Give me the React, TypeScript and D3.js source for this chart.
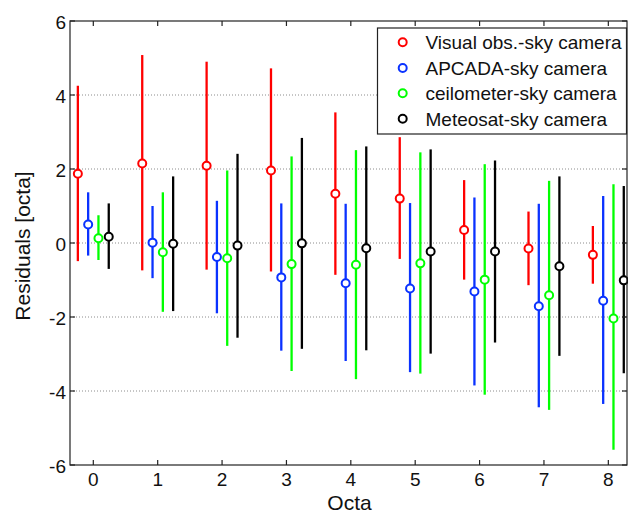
import React from "react";
import * as d3 from "d3";

const octas = [0, 1, 2, 3, 4, 5, 6, 7, 8];
const yTicks = [-6, -4, -2, 0, 2, 4, 6];
const gridTicks = [-4, -2, 0, 2, 4];

const seriesNames = [
  "Visual obs.-sky camera",
  "APCADA-sky camera",
  "ceilometer-sky camera",
  "Meteosat-sky camera",
];
const seriesColors = ["#ff0000", "#0a32ff", "#00ff00", "#000000"];
const seriesOffsets = [-0.24, -0.08, 0.08, 0.24];

const visualMean = [1.87, 2.15, 2.09, 1.96, 1.33, 1.2, 0.35, -0.15, -0.32];
const visualLow = [-0.49, -0.74, -0.72, -0.77, -0.86, -0.43, -0.99, -1.14, -1.1];
const visualHigh = [4.25, 5.08, 4.9, 4.72, 3.53, 2.86, 1.7, 0.85, 0.46];

const apcadaMean = [0.5, 0.01, -0.38, -0.93, -1.09, -1.23, -1.31, -1.71, -1.56];
const apcadaLow = [-0.34, -0.95, -1.9, -2.91, -3.19, -3.49, -3.85, -4.44, -4.35];
const apcadaHigh = [1.37, 1.0, 1.14, 1.07, 1.06, 1.08, 1.23, 1.06, 1.27];

const ceilMean = [0.13, -0.25, -0.41, -0.57, -0.59, -0.55, -0.99, -1.41, -2.04];
const ceilLow = [-0.46, -1.86, -2.78, -3.46, -3.68, -3.53, -4.1, -4.51, -5.59];
const ceilHigh = [0.75, 1.37, 1.96, 2.34, 2.51, 2.45, 2.13, 1.68, 1.59];

const meteoMean = [0.17, -0.02, -0.07, -0.01, -0.14, -0.23, -0.23, -0.63, -1.01];
const meteoLow = [-0.7, -1.84, -2.56, -2.86, -2.9, -2.99, -2.69, -3.05, -3.52];
const meteoHigh = [1.07, 1.8, 2.41, 2.84, 2.61, 2.53, 2.23, 1.8, 1.54];

const means = [visualMean, apcadaMean, ceilMean, meteoMean];
const lows = [visualLow, apcadaLow, ceilLow, meteoLow];
const highs = [visualHigh, apcadaHigh, ceilHigh, meteoHigh];

const W = 628;
const H = 513;
const left = 70;
const right = 627;
const top = 21;
const bottom = 465;
const FONT = "'Liberation Sans', Arial, Helvetica, sans-serif";

export default function App() {
  const x = d3.scaleLinear().domain([-0.362, 8.29]).range([left, right]);
  const y = d3.scaleLinear().domain([-6, 6]).range([bottom, top]);
  const tickLen = 5;
  const frame = "#222";

  const legendX = 377.5;
  const legendY = 28;
  const legendW = 249;
  const legendH = 106;
  const rowY = [42.3, 68, 93.3, 118.7];

  return (
    <svg
      width={W}
      height={H}
      style={{ position: "absolute", left: 0, top: 0, background: "#fff" }}
      fontFamily={FONT}
    >
      <rect x={0} y={0} width={W} height={H} fill="#fff" />
      {gridTicks.map((t) => (
        <line
          key={"g" + t}
          x1={left}
          x2={right}
          y1={y(t)}
          y2={y(t)}
          stroke="#8c8c8c"
          strokeWidth={1}
          strokeDasharray="1,2"
        />
      ))}
      {means.map((m, si) =>
        octas.map((o, i) => {
          const cx = x(o + seriesOffsets[si]);
          return (
            <g key={`s${si}-${i}`}>
              <line
                x1={cx}
                x2={cx}
                y1={y(lows[si][i])}
                y2={y(highs[si][i])}
                stroke={seriesColors[si]}
                strokeWidth={2.3}
              />
              <circle
                cx={cx}
                cy={y(m[i])}
                r={4}
                fill="#fff"
                stroke={seriesColors[si]}
                strokeWidth={2}
              />
            </g>
          );
        })
      )}
      <rect
        x={left}
        y={top}
        width={right - left}
        height={bottom - top}
        fill="none"
        stroke={frame}
        strokeWidth={1.2}
      />
      {octas.map((o) => (
        <g key={"xt" + o}>
          <line x1={x(o)} x2={x(o)} y1={bottom} y2={bottom - tickLen} stroke={frame} strokeWidth={1.2} />
          <line x1={x(o)} x2={x(o)} y1={top} y2={top + tickLen} stroke={frame} strokeWidth={1.2} />
          <text x={x(o)} y={486} textAnchor="middle" fontSize={19} fill="#111">
            {o}
          </text>
        </g>
      ))}
      {yTicks.map((t) => (
        <g key={"yt" + t}>
          <line x1={left} x2={left + tickLen} y1={y(t)} y2={y(t)} stroke={frame} strokeWidth={1.2} />
          <line x1={right} x2={right - tickLen} y1={y(t)} y2={y(t)} stroke={frame} strokeWidth={1.2} />
          <text x={66} y={y(t) + 7.8} textAnchor="end" fontSize={19} fill="#111">
            {t}
          </text>
        </g>
      ))}
      <text x={349.5} y={510} textAnchor="middle" fontSize={21} fill="#111">
        Octa
      </text>
      <text
        transform={`translate(30, 246) rotate(-90)`}
        textAnchor="middle"
        fontSize={21}
        fill="#111"
      >
        Residuals [octa]
      </text>
      <rect x={legendX} y={legendY} width={legendW} height={legendH} fill="#fff" stroke={frame} strokeWidth={1.2} />
      {seriesNames.map((name, i) => (
        <g key={"l" + i}>
          <circle cx={402.7} cy={rowY[i]} r={4} fill="#fff" stroke={seriesColors[i]} strokeWidth={2} />
          <text x={425.5} y={rowY[i] + 7} fontSize={19} fill="#111">
            {name}
          </text>
        </g>
      ))}
    </svg>
  );
}
